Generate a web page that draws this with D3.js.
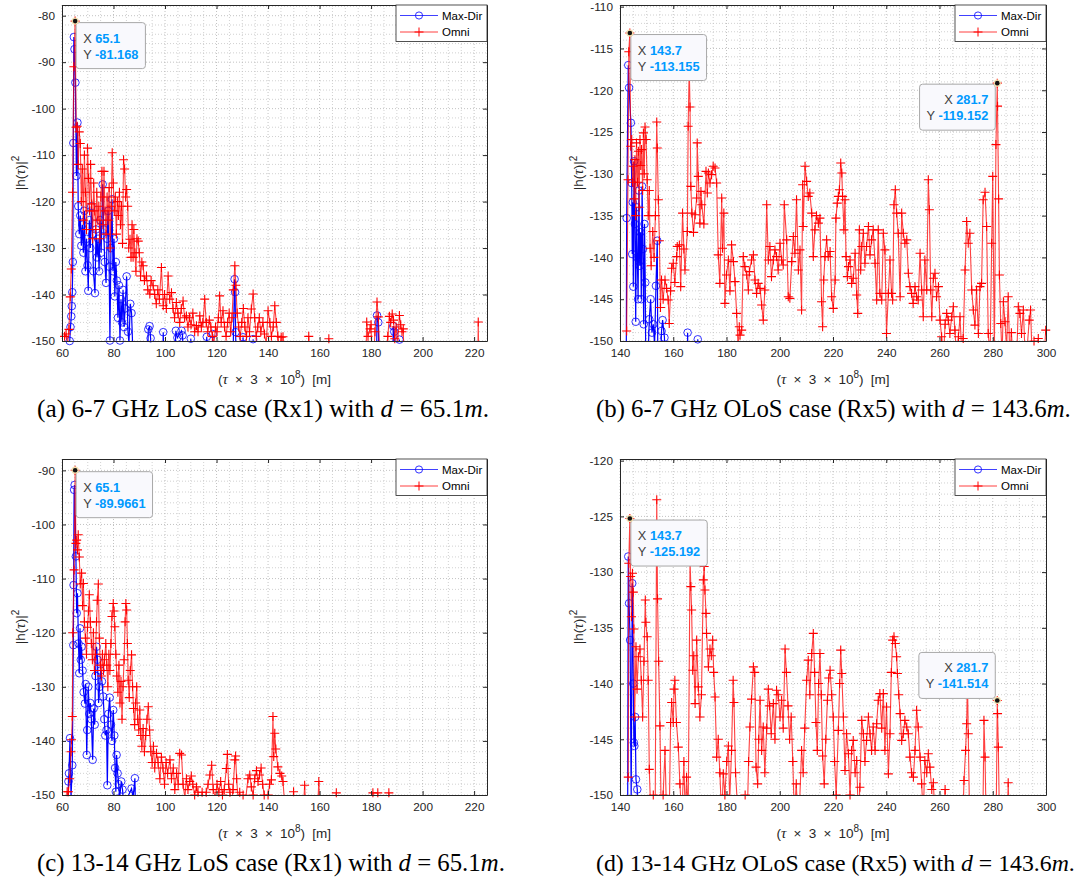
<!DOCTYPE html>
<meta charset="utf-8">
<style>
  body { margin: 0; background: #fff; }
  svg { font-family: "Liberation Sans", Arial, Helvetica, sans-serif; }
  .minor line { stroke: #bdbdbd; stroke-width: 0.7; stroke-dasharray: 1,2; }
  .major line { stroke: #a8a8a8; stroke-width: 0.7; stroke-dasharray: 1,2; }
  .axis path, .axis line { stroke: #262626; stroke-width: 1; }
  .axis text { fill: #262626; }
  .caption { font-family: "Liberation Serif", "Times New Roman", serif; font-size: 24px; fill: #000; }
</style>
<body>
<div id="chart"></div>
<script src="https://d3js.org/d3.v7.min.js"></script>
<script>
// ---- data ----
// (a) 6-7 GHz LoS
var omniA = [
  [61.0,-149.0],[61.6,-148.5],[62.2,-150.5],[62.7,-147.5],[63.2,-140.5],[63.6,-134.5],[64.1,-118],[64.6,-91],[65.1,-81.168],
  [65.5,-104],[65.9,-103.8],[66.3,-112],[66.7,-105],[67.1,-107.5],[67.5,-120],[67.9,-113],[68.3,-124],[68.7,-110],[69.1,-118],
  [69.5,-126],[69.9,-108.5],[70.3,-115],[70.7,-122],[71.1,-112],[71.5,-120.5],[71.9,-128],[72.3,-116],[72.7,-122],[73.1,-126],
  [73.5,-118],[73.9,-124],[74.3,-121],[74.7,-128],[75.1,-119],[75.5,-113.5],[75.9,-125],[76.3,-113.5],[76.7,-122],[77.1,-127],
  [77.5,-119],[77.9,-124],[78.3,-117],[78.7,-130],[79.1,-121],[79.5,-109.5],[79.9,-116],[80.3,-122],[80.7,-119],[81.1,-127],
  [81.5,-120],[81.9,-123],[82.3,-118],[82.7,-125],[83.1,-121],[83.5,-129],[83.9,-111],[84.3,-113],[84.7,-119],[85.1,-117.4],
  [85.5,-121],[85.9,-130],[86.4,-128.1],[86.8,-132],[87.2,-125],[87.6,-132],[87.9,-126],[88.3,-131],[88.7,-135],[89.1,-128],
  [89.6,-128.5],[90.0,-131],[90.5,-136],[91.0,-133],[91.5,-133.8],[92.0,-137],[92.8,-136],[93.3,-139],[94.1,-139.9],[94.6,-137],
  [95.4,-138.1],[96.0,-140],[96.6,-142],[97.2,-139],[97.8,-141],[98.6,-134.2],[99.3,-142.4],[99.8,-140],[100.5,-143],[101.2,-136],
  [101.8,-141],[102.5,-139.6],[103.1,-143],[103.7,-145],[104.4,-141.7],[105.0,-144],[105.7,-146],[106.3,-143],[107.0,-141.4],
  [107.6,-145],[108.3,-144.6],[108.9,-147],[109.5,-145],[110.1,-146.5],[110.8,-144],[111.5,-148],[112.2,-146.7],[112.8,-148],
  [113.5,-144.6],[114.1,-147],[114.7,-146],[115.4,-141],[116.0,-146],[116.6,-148],[117.2,-145.5],[117.8,-147],[118.4,-149],
  [119.0,-150.5],[119.6,-147],[120.2,-148],[120.7,-145],[121.2,-140.3],[121.8,-146],[122.5,-143.5],[123.1,-147],[123.7,-149],
  [124.3,-146],[124.9,-144],[125.5,-148],[126.0,-145],[126.5,-139],[127.1,-133.8],[127.5,-138],[128.0,-144],[128.6,-147],
  [129.2,-149],[129.8,-146],[130.4,-143],[131.0,-147],[131.6,-149],[132.2,-145],[132.8,-148],[133.5,-143.1],[134.2,-139.9],
  [134.8,-145],[135.4,-149],[136.0,-147],[136.6,-145],[137.2,-148],[138.0,-146],[138.6,-148.5],[139.3,-150.5],[140.0,-143.5],
  [140.7,-146],[141.3,-149],[142.0,-147],[142.6,-142.4],[143.2,-146],[143.8,-149],[144.4,-152],[145.1,-149.2],[145.8,-149.1],
  [146.3,-160],[155.4,-160],[155.8,-149],[156.3,-160],[163.2,-160],[163.6,-149.5],[164.0,-160],[177.8,-160],[178.3,-145.9],
  [178.8,-149],[179.6,-147.4],[180.0,-146.5],[180.5,-160],[181.5,-148],[182.3,-141.6],[182.8,-144.8],[183.2,-150.5],[184.0,-160],
  [186.5,-149],[187.1,-144.7],[187.6,-146],[188.2,-144.2],[188.7,-145.5],[189.2,-149.5],[189.7,-147],[190.3,-150.5],[191.0,-144.5],
  [191.5,-146.5],[192.0,-148],[192.5,-147.4],[193.0,-160],[221.3,-160],[221.6,-145.9],[222.0,-160]
];
var maxDirA = [
  [62.5,-160],[63.0,-150],[63.3,-147],[63.6,-144.7],[63.8,-142.5],[64.0,-139.5],[64.2,-133],[64.4,-107.4],[64.6,-84.6],
  [64.85,-87.2],[65.2,-94.4],[65.6,-114.5],[66.0,-103],[66.3,-121],[66.7,-127],[67.1,-123],[67.5,-129.5],[67.9,-125],[68.3,-131],
  [68.7,-122],[69.1,-135],[69.5,-128],[69.9,-133.7],[70.2,-139.2],[70.6,-124],[71.0,-130],[71.4,-121],[71.8,-127],[72.2,-135],
  [72.8,-139.7],[73.2,-126],[73.6,-132],[74.0,-128],[74.4,-135],[74.8,-124],[75.2,-131],[75.8,-116.3],[76.2,-126],[76.6,-133],
  [77.1,-137.5],[77.5,-128],[77.9,-122],[78.3,-134],[78.6,-149.9],[79.0,-130],[79.4,-119.5],[79.8,-135],[80.2,-128],[80.5,-140.4],
  [80.9,-133],[81.3,-137],[81.7,-145],[82.1,-138],[82.5,-149.9],[82.9,-141],[83.3,-146],[83.7,-139],[84.1,-147],[84.5,-143],
  [85.1,-136.1],[85.6,-148],[86.0,-150.5],[86.5,-142],[87.0,-144],[87.4,-150.5],[88.0,-160],[93.0,-160],[93.5,-147.5],
  [94.0,-146.8],[94.4,-149.4],[95.0,-160],[99.0,-160],[99.3,-148.1],[99.8,-160],[103.5,-160],[104.2,-147.8],[104.8,-149.3],
  [106.4,-147.8],[106.8,-148.8],[107.5,-160],[109.5,-160],[110.0,-149.5],[110.5,-160],[115.5,-160],[116.2,-149.1],[116.8,-160],
  [118.0,-160],[118.5,-148.5],[119.0,-160],[126.5,-150.5],[127.0,-136.7],[127.2,-139.5],[127.4,-148.1],[127.8,-160],[130.0,-160],
  [130.3,-149.2],[130.8,-160],[134.0,-160],[134.2,-149.6],[134.6,-160],[182.0,-160],[182.3,-144.5],[182.8,-146],[183.2,-160],
  [188.4,-160],[188.6,-146.8],[189.0,-148],[189.4,-160],[190.6,-160],[191.0,-149.7],[191.4,-160]
];

// (b) 6-7 GHz OLoS
var omniB = [
  [142.5,-148.8],[143.0,-130.7],[143.3,-115.4],[143.7,-113.155],[144.0,-126.7],[144.4,-125.9],[144.7,-131],[145.0,-129.1],
  [145.3,-133],[145.6,-128.3],[145.9,-135],[146.2,-126.3],[146.6,-131],[146.9,-127.3],[147.2,-134],[147.5,-125.9],[147.8,-129],
  [148.1,-127.1],[148.5,-132],[148.8,-125.1],[149.1,-130],[149.4,-124.4],[149.8,-125.9],[150.2,-130.7],[150.6,-135],[151.0,-132],
  [151.3,-138.9],[151.7,-141],[152.3,-136.9],[152.8,-140],[153.3,-135],[153.8,-123.8],[154.0,-126.9],[154.4,-133.1],[154.8,-138],
  [155.2,-146],[155.6,-142.7],[156.2,-145],[156.9,-142.7],[157.5,-143.7],[158.1,-145.1],[158.5,-147.9],[159.0,-144],[159.4,-141.3],
  [160.0,-140.7],[160.6,-143],[161.3,-139.9],[161.5,-138.7],[162.3,-138.5],[162.8,-143.5],[163.5,-134.7],[164.0,-139],[164.4,-141.5],
  [165.3,-136.9],[165.6,-124.3],[166.0,-117.3],[166.3,-122],[166.6,-131.5],[167.0,-134.7],[167.6,-137],[168.2,-134.9],[168.8,-132.9],
  [169.0,-126.3],[169.4,-130.3],[170.0,-135.9],[170.4,-132.1],[170.7,-133.7],[171.5,-136],[172.3,-129.7],[172.8,-132.3],[173.2,-129.9],
  [173.8,-131.1],[174.4,-130.1],[175.0,-129.1],[175.7,-129.3],[176.3,-131.1],[176.9,-139.7],[177.5,-143.1],[178.2,-132.9],[178.5,-138.9],
  [179.0,-134.7],[179.4,-145.5],[180.0,-142.1],[180.7,-140.3],[181.3,-144],[181.9,-138.5],[182.6,-140.5],[183.2,-142.9],[183.8,-146.7],
  [184.4,-151],[184.8,-148.3],[185.1,-149.3],[185.7,-148.7],[186.3,-139.9],[186.9,-141.1],[187.6,-142.1],[188.2,-143.9],[188.6,-141.7],
  [189.4,-140.3],[190.1,-139.7],[190.7,-142.7],[191.3,-144.3],[191.9,-143.1],[192.6,-143.7],[193.2,-145.7],[193.8,-147.5],[194.4,-143.9],
  [195.1,-133.7],[195.7,-140.3],[196.3,-138.7],[196.9,-142.3],[197.6,-140.3],[198.2,-139.1],[198.8,-139.9],[199.4,-141.5],[200.1,-138.3],
  [200.7,-140.3],[201.3,-140.9],[201.7,-133.7],[202.6,-137.9],[203.2,-144.7],[203.8,-144.9],[204.5,-140.5],[205.1,-137.5],[205.7,-139.5],
  [206.3,-133.1],[207.0,-141.5],[207.6,-139.1],[208.2,-146.3],[208.6,-131.3],[208.8,-136.3],[209.5,-129.1],[210.1,-130.9],[210.7,-132.7],
  [211.3,-132.3],[212.0,-134.7],[212.6,-139.9],[213.2,-136.7],[213.8,-135],[214.5,-135.9],[215.1,-135.3],[215.7,-145.3],[216.1,-148.3],
  [216.5,-142.7],[217.0,-139.9],[217.6,-137.9],[218.2,-139.9],[218.9,-139.3],[219.5,-144.7],[220.1,-146.1],[220.8,-142.7],[221.1,-135.3],
  [221.6,-133.5],[222.0,-132.7],[222.4,-131.9],[222.9,-128.7],[223.3,-129.9],[223.6,-132.7],[224.1,-136.7],[224.5,-133.1],[224.9,-139.9],
  [225.4,-142.3],[225.8,-141.1],[226.4,-140.3],[227.0,-143.1],[227.6,-142.5],[228.3,-139.5],[228.9,-144.5],[229.3,-146.7],[229.9,-136.7],
  [230.4,-141.5],[230.8,-138.7],[231.4,-137.1],[232.0,-140.7],[232.6,-138.7],[233.3,-136.3],[233.9,-139.7],[234.5,-137.9],[235.1,-136.7],
  [235.8,-140.7],[236.4,-145.1],[237.0,-136.7],[237.6,-144.3],[238.3,-145.1],[238.9,-137.1],[239.5,-139.1],[240.1,-149.1],[240.8,-144.3],
  [241.4,-140.3],[242.0,-144.3],[242.4,-145.1],[242.9,-133.7],[243.4,-131.9],[243.9,-134.7],[244.5,-137.1],[245.2,-144.7],[245.8,-134.7],
  [246.4,-137.1],[247.0,-138.3],[247.7,-137.9],[248.3,-141.9],[248.9,-143.5],[249.5,-144.3],[250.1,-145.5],[250.8,-143.5],[251.4,-144.7],
  [252.0,-145.1],[252.7,-139.5],[253.3,-143.9],[253.9,-147.1],[254.5,-140.3],[255.2,-143.9],[255.8,-130.7],[256.2,-134.3],[256.7,-143.9],
  [257.1,-147.1],[257.7,-142.5],[258.3,-141.9],[258.9,-144.7],[259.6,-143.5],[260.2,-147.5],[260.8,-149.5],[261.5,-152],[262.1,-148],
  [262.7,-146.7],[263.3,-147.5],[263.9,-149.1],[264.6,-147.1],[265.2,-145.9],[265.8,-148.7],[266.4,-152],[267.1,-149.5],[267.7,-147.1],
  [268.3,-151],[268.9,-149.7],[269.6,-141.5],[270.2,-135.7],[270.8,-138.3],[271.4,-137.1],[272.1,-143.9],[272.7,-146.3],[273.3,-148.1],
  [273.9,-143.9],[274.6,-149.1],[275.2,-143.5],[275.8,-143.1],[276.4,-133.1],[277.1,-132.2],[277.7,-136.3],[278.3,-149.1],[279.0,-152],
  [279.6,-138.3],[280.0,-130.3],[280.6,-152],[281.2,-126.5],[281.7,-119.152],[281.8,-121.9],[282.2,-133],[282.5,-142.1],[283.0,-147.9],
  [283.5,-152],[284.0,-145.3],[284.6,-147.7],[285.2,-151],[285.8,-144.7],[286.4,-152],[287.0,-149],[287.6,-152],[288.3,-150.5],
  [289.0,-152],[289.6,-145.9],[290.2,-146.7],[290.8,-149.1],[291.5,-146.3],[292.2,-152],[293.0,-150.5],[293.7,-147.5],[294.2,-146.3],
  [294.8,-152],[295.5,-150],[296.3,-152],[297.1,-149.7],[297.8,-152],[298.6,-150.5],[299.3,-152],[299.9,-148.7]
];
var maxDirB = [
  [142.3,-160],[142.5,-135.3],[143.1,-117],[143.4,-119.7],[144.1,-123.9],[144.4,-131.1],[144.6,-139.6],[144.8,-133.4],[145.0,-143.5],
  [145.3,-128.5],[145.6,-136],[145.9,-147.7],[146.2,-134],[146.5,-140],[146.8,-145],[147.1,-132],[147.4,-141],[147.7,-137],
  [148.0,-145],[148.3,-131.5],[148.6,-139],[148.9,-148],[149.2,-136],[149.5,-143],[149.8,-160],[151.0,-147.4],[151.5,-145],
  [152.0,-149],[152.5,-148],[153.0,-150.5],[153.5,-143.4],[154.0,-138],[154.3,-160],[155.6,-148.8],[156.0,-147.5],[156.7,-149.6],
  [157.0,-160],[165.1,-160],[165.4,-149],[165.7,-160],[168.9,-160],[169.2,-149.8],[169.5,-160]
];

// (c) 13-14 GHz LoS
var omniC = [
  [61.6,-160],[62.0,-149.4],[62.5,-149.4],[63.0,-147],[63.5,-142],[63.7,-139.8],[64.0,-135.5],[64.2,-120],[64.7,-108.4],
  [65.1,-89.9661],[65.4,-103.5],[65.7,-102.9],[66.0,-104.7],[66.3,-101.9],[66.7,-106],[67.1,-111],[67.6,-109],[68.0,-115],
  [68.3,-110.9],[68.7,-118],[69.1,-121],[69.5,-124],[69.9,-119],[70.3,-116],[70.6,-113],[71.0,-118],[71.4,-122],[71.8,-125],
  [72.2,-120],[72.6,-127],[73.0,-124],[73.4,-118],[73.7,-114],[74.1,-111],[74.5,-121],[74.9,-126],[75.3,-128],[75.7,-124],
  [76.1,-127],[76.5,-125],[77.0,-122],[77.4,-126],[77.8,-130],[78.2,-124],[78.6,-127],[79.0,-122],[79.4,-117],[79.9,-114.6],
  [80.2,-116],[80.5,-118.9],[80.9,-124],[81.3,-128],[81.7,-131],[82.1,-126],[82.5,-133],[82.9,-129],[83.3,-136],[83.7,-130],
  [84.1,-125],[84.5,-118],[84.8,-114.6],[85.1,-115.8],[85.4,-122],[85.7,-128.8],[86.1,-132],[86.5,-127],[87.0,-124.1],[87.4,-130],
  [87.8,-134],[88.2,-137],[88.6,-133],[89.0,-130],[89.4,-136],[89.8,-138],[90.2,-134.3],[90.6,-139],[91.0,-141],[91.5,-137.7],
  [92.0,-142],[92.5,-139],[93.0,-136],[93.5,-133.7],[94.0,-138],[94.5,-142],[95.0,-144],[95.5,-141],[96.0,-145],[96.7,-142.3],
  [97.3,-144],[98.0,-147],[98.6,-143],[99.2,-145],[99.8,-148],[100.4,-144],[101.0,-146],[101.9,-143.5],[102.5,-147],[103.2,-145],
  [103.8,-149],[104.5,-146],[105.1,-148],[105.7,-142.3],[106.4,-142.6],[107.0,-148],[107.7,-150.5],[108.3,-147],[108.9,-149],
  [109.6,-147.5],[110.2,-146.5],[110.8,-148],[111.5,-150],[112.2,-148.5],[112.8,-149.5],[113.5,-152],[114.4,-149.5],[115.2,-152],
  [116.0,-149.5],[116.7,-148],[117.4,-146.3],[118.1,-144.5],[118.7,-149],[119.5,-150.5],[120.2,-148],[120.9,-149.5],[121.6,-147.5],
  [122.3,-150],[123.0,-149],[123.8,-145.1],[124.2,-142.5],[124.7,-148],[125.2,-149.5],[125.7,-152],[126.4,-149],[127.1,-143.5],
  [127.4,-142.8],[127.8,-147],[128.3,-150.5],[129.0,-149.5],[129.6,-152],[130.3,-150],[131.0,-152],[132.2,-147],[132.9,-146.3],
  [133.5,-148.5],[134.2,-150],[134.8,-147],[135.5,-145.5],[136.1,-147.5],[136.7,-146.3],[137.3,-145],[137.9,-148],[138.5,-150],
  [139.2,-152],[140.0,-150],[140.6,-148],[141.3,-147.2],[141.9,-135.5],[142.2,-142.9],[142.6,-138.6],[143.0,-141.5],[143.8,-144.8],
  [144.6,-146],[145.3,-146.5],[145.8,-147.5],[146.5,-152],[149.5,-152],[149.9,-149.4],[150.3,-152],[153.8,-152],[154.2,-148.2],
  [154.6,-152],[159.3,-152],[159.7,-147.5],[160.1,-152],[166.1,-152],[166.5,-149.6],[166.9,-152],[180.3,-152],[180.7,-149.6],
  [181.2,-152],[182.2,-152],[182.6,-149.6],[183.0,-152],[186.5,-152],[186.9,-149.6],[187.3,-152]
];
var maxDirC = [
  [62.0,-160],[62.5,-147.5],[62.7,-146],[63.1,-139.5],[63.5,-150.5],[64.0,-144.5],[64.4,-122.3],[64.5,-111.2],[64.7,-93.6],
  [64.9,-92.7],[65.4,-105.9],[65.7,-116.4],[66.0,-112.7],[66.4,-122],[66.7,-127.5],[67.0,-119.2],[67.3,-125],[67.6,-122.6],
  [68.0,-127],[68.4,-131],[68.9,-133.1],[69.2,-129.5],[69.6,-142.6],[69.8,-138],[70.2,-130],[70.6,-135],[71.0,-133],[71.4,-136],
  [71.9,-143.5],[72.3,-134],[72.7,-137],[73.0,-128],[73.4,-122.6],[73.8,-125],[74.2,-133],[74.6,-130],[75.0,-127],[75.5,-129],
  [76.0,-131.8],[76.4,-136],[76.8,-139],[77.3,-138],[77.6,-148.2],[78.0,-135],[78.5,-132],[79.0,-137],[79.4,-140],[79.9,-134.3],
  [80.3,-139],[80.6,-145],[80.9,-149.4],[81.2,-142.6],[81.6,-146],[82.0,-148],[82.4,-150.5],[83.0,-147.5],[83.5,-149],[84.0,-152],
  [87.0,-148.8],[87.6,-150.5],[88.3,-146.9],[88.8,-160]
];

// (d) 13-14 GHz OLoS
var omniD = [
  [143.1,-148.4],[143.3,-129.2],[143.7,-125.192],[144.0,-130.4],[144.3,-134],[144.7,-130.1],[145.0,-131.8],[145.2,-135.1],
  [145.5,-143],[146.0,-136.7],[146.4,-140.5],[146.9,-137.6],[147.5,-136.9],[148.0,-139.7],[148.5,-143],[149.0,-138],[149.5,-132.5],
  [149.7,-134.5],[150.2,-135.8],[150.6,-139.7],[151.0,-147.7],[151.6,-152],[152.5,-150],[153.2,-152],[153.8,-123.5],[154.1,-132.4],
  [154.5,-138],[155.0,-143.8],[155.5,-152],[156.2,-150],[156.9,-146],[157.5,-152],[158.5,-152],[159.0,-143.5],[159.4,-141.7],
  [160.0,-143.5],[160.3,-140.5],[160.6,-139.7],[161.2,-143.5],[161.9,-145.7],[162.5,-149],[163.2,-152],[164.0,-147],[164.5,-152],
  [165.0,-148.4],[165.6,-152],[166.3,-128.9],[166.6,-131.3],[166.9,-133.4],[167.3,-138.8],[167.7,-137.5],[168.2,-141.8],[168.8,-136.1],
  [169.4,-140.3],[170.0,-143],[170.6,-141],[171.3,-130.7],[171.6,-129.5],[171.9,-131.6],[172.3,-133.7],[172.5,-135.5],[173.2,-138.5],
  [173.8,-136.9],[174.3,-137.5],[174.8,-136.1],[175.2,-139],[175.7,-141.2],[176.3,-146.6],[176.9,-145],[177.5,-148],[178.2,-152],
  [178.8,-148.1],[179.4,-150],[180.1,-147],[180.7,-145.6],[181.2,-150.5],[181.9,-146],[182.5,-139.7],[182.8,-141.7],[183.4,-148],
  [184.0,-150.5],[184.6,-152],[185.5,-150.5],[186.3,-152],[187.0,-150],[187.8,-152],[188.3,-147],[188.8,-143.9],[189.4,-141.4],
  [190.1,-138.5],[190.6,-139],[191.1,-147.5],[191.7,-149],[192.1,-145],[192.6,-141.5],[193.2,-146],[193.8,-143.9],[194.4,-148],
  [195.1,-144],[195.7,-140.5],[196.2,-142],[196.8,-144.5],[197.6,-141.8],[198.2,-145],[198.8,-140.6],[199.4,-141],[200.1,-143],
  [200.7,-141.5],[201.3,-144],[202.0,-136.9],[202.5,-139],[203.1,-142],[203.7,-145],[204.3,-143],[204.9,-147],[205.5,-152],
  [206.2,-149],[206.8,-152],[207.5,-150.5],[208.2,-146],[208.8,-148],[209.4,-144],[210.1,-139.7],[210.7,-137.9],[211.3,-141],
  [212.0,-137.3],[212.6,-135.5],[213.1,-139],[213.6,-143.5],[214.1,-146],[214.6,-140],[215.1,-137.3],[215.6,-141],[216.1,-146.5],
  [216.7,-149],[217.3,-145],[217.9,-141.5],[218.4,-139.5],[218.9,-138.8],[219.5,-141],[220.1,-143],[220.6,-147],[221.2,-150],
  [222.0,-144.2],[222.5,-140],[222.9,-137],[223.3,-139.1],[223.9,-143],[224.5,-147.8],[225.1,-144.5],[225.8,-146.3],[226.4,-150],
  [227.0,-146],[227.6,-145.1],[228.3,-148],[228.9,-146.9],[229.5,-152],[230.1,-149.3],[230.8,-143.3],[231.4,-144.5],[232.0,-147],
  [232.6,-145.1],[233.3,-143],[233.9,-144.5],[234.5,-146],[235.1,-143.9],[235.8,-146],[236.4,-143.6],[237.0,-141.5],[237.6,-140.9],
  [238.3,-144],[238.9,-140.9],[239.5,-146],[240.1,-142.1],[240.8,-148.1],[241.4,-144.5],[241.9,-139],[242.4,-136.1],[242.9,-135.8],
  [243.4,-136.4],[243.9,-137.6],[244.2,-139.1],[244.7,-141],[245.2,-142.7],[245.8,-145.1],[246.4,-144.5],[247.0,-143.3],[247.7,-143.9],
  [248.3,-144.5],[248.9,-146.6],[249.5,-148],[250.2,-148.4],[250.8,-146],[251.4,-142.4],[252.0,-143.9],[252.7,-146.6],[253.3,-149],
  [253.9,-152],[254.5,-146.9],[255.2,-148],[255.8,-146.3],[256.4,-147.5],[257.1,-149.5],[257.7,-148.9],[258.3,-152],[261.7,-152],
  [262.1,-149.5],[262.6,-152],[268.8,-152],[269.2,-148.7],[269.8,-146],[270.2,-143.6],[270.5,-139.5],[270.8,-144.5],[271.3,-152],
  [276.3,-152],[276.7,-143.3],[277.1,-146.6],[277.5,-152],[281.3,-152],[281.7,-141.514],[281.8,-142.7],[282.1,-145.7],[282.5,-152],
  [285.5,-152],[285.8,-148.9],[286.2,-152]
];
var maxDirD = [
  [142.8,-160],[143.1,-128.6],[143.4,-132.8],[143.8,-136.1],[144.2,-150.5],[144.6,-131],[145.0,-140],[145.2,-145.3],[145.4,-145.6],
  [145.7,-143],[146.0,-148.6],[146.5,-149.5],[146.8,-160]
];

// axis limits and ticks
var xDomains = [[60,225],[140,300],[60,225],[140,300]];
var yDomains = [[-150,-77.7],[-150,-109.8],[-150,-87.9],[-150,-119.85]];
var xTicksLoS = [60,80,100,120,140,160,180,200,220];
var xTicksOLoS = [140,160,180,200,220,240,260,280,300];
var yTicksA = [-150,-140,-130,-120,-110,-100,-90,-80];
var yTicksB = [-150,-145,-140,-135,-130,-125,-120,-115,-110];
var yTicksC = [-150,-140,-130,-120,-110,-100,-90];
var yTicksD = [-150,-145,-140,-135,-130,-125,-120];
var xMinorSteps = [5,5,5,5];
var yMinorSteps = [2,1,2,1];

// data tips: [x, y] of the marked point
var tipsA = [[65.1,-81.168]];
var tipsB = [[143.7,-113.155],[281.7,-119.152]];
var tipsC = [[65.1,-89.9661]];
var tipsD = [[143.7,-125.192],[281.7,-141.514]];

var seriesNames = ["Max-Dir","Omni"];
var captions = [
  ["(a) 6-7 GHz LoS case (Rx1) with ", "d", " = 65.1", "m", "."],
  ["(b) 6-7 GHz OLoS case (Rx5) with ", "d", " = 143.6", "m", "."],
  ["(c) 13-14 GHz LoS case (Rx1) with ", "d", " = 65.1", "m", "."],
  ["(d) 13-14 GHz OLoS case (Rx5) with ", "d", " = 143.6", "m", "."]
];

// ---- layout ----
var boxes = [
  {left: 62, right: 487, top: 5, bottom: 341},
  {left: 620, right: 1046, top: 5, bottom: 341},
  {left: 62, right: 487, top: 459, bottom: 795},
  {left: 620, right: 1046, top: 459, bottom: 795}
];
var tipPlace = [["se"], ["se","sw"], ["se"], ["se","nw"]];
// caption: left x, baseline y, target width
var captionPos = [[37, 417, 452], [596, 417, 475], [37, 871, 468], [596, 871, 479]];

var panels = [
  {omni: omniA, maxDir: maxDirA, xTicks: xTicksLoS, yTicks: yTicksA, tips: tipsA},
  {omni: omniB, maxDir: maxDirB, xTicks: xTicksOLoS, yTicks: yTicksB, tips: tipsB},
  {omni: omniC, maxDir: maxDirC, xTicks: xTicksLoS, yTicks: yTicksC, tips: tipsC},
  {omni: omniD, maxDir: maxDirD, xTicks: xTicksOLoS, yTicks: yTicksD, tips: tipsD}
];

var svg = d3.select("#chart").append("svg")
    .attr("width", 1081)
    .attr("height", 882);

var plusPath = "M-4.5,0H4.5M0,-4.5V4.5";

panels.forEach(function(p, i) { drawPanel(p, i); });

function drawPanel(p, i) {
  var b = boxes[i];
  var x = d3.scaleLinear().domain(xDomains[i]).range([b.left, b.right]);
  var y = d3.scaleLinear().domain(yDomains[i]).range([b.bottom, b.top]);
  var g = svg.append("g");

  g.append("clipPath").attr("id", "clip" + i)
    .append("rect")
    .attr("x", b.left).attr("y", b.top)
    .attr("width", b.right - b.left).attr("height", b.bottom - b.top);

  // grid (minor then major)
  var xs = xMinorSteps[i], ys = yMinorSteps[i];
  var xMinor = d3.range(Math.ceil(xDomains[i][0] / xs) * xs, xDomains[i][1] + 1e-9, xs);
  var yMinor = d3.range(Math.ceil(yDomains[i][0] / ys) * ys, yDomains[i][1] + 1e-9, ys);
  var minor = g.append("g").attr("class", "minor");
  minor.selectAll(".gx").data(xMinor.filter(function(v) { return p.xTicks.indexOf(v) < 0; }))
    .enter().append("line")
    .attr("x1", function(d) { return x(d); }).attr("x2", function(d) { return x(d); })
    .attr("y1", b.top).attr("y2", b.bottom);
  minor.selectAll(".gy").data(yMinor.filter(function(v) { return p.yTicks.indexOf(v) < 0; }))
    .enter().append("line")
    .attr("y1", function(d) { return y(d); }).attr("y2", function(d) { return y(d); })
    .attr("x1", b.left).attr("x2", b.right);
  var major = g.append("g").attr("class", "major");
  major.selectAll(".gx").data(p.xTicks)
    .enter().append("line")
    .attr("x1", function(d) { return x(d); }).attr("x2", function(d) { return x(d); })
    .attr("y1", b.top).attr("y2", b.bottom);
  major.selectAll(".gy").data(p.yTicks)
    .enter().append("line")
    .attr("y1", function(d) { return y(d); }).attr("y2", function(d) { return y(d); })
    .attr("x1", b.left).attr("x2", b.right);

  var line = d3.line().x(function(d) { return x(d[0]); }).y(function(d) { return y(d[1]); });
  var inside = function(d) {
    return d[1] >= yDomains[i][0] - 0.05 && d[1] <= yDomains[i][1] && d[0] >= xDomains[i][0] && d[0] <= xDomains[i][1];
  };

  // Max-Dir (blue, circles)
  g.append("path").datum(p.maxDir)
    .attr("clip-path", "url(#clip" + i + ")")
    .attr("d", line)
    .attr("fill", "none").attr("stroke", "#0000ff").attr("stroke-width", 1.2);
  g.append("g").selectAll("circle").data(p.maxDir.filter(inside))
    .enter().append("circle")
    .attr("cx", function(d) { return x(d[0]); })
    .attr("cy", function(d) { return y(d[1]); })
    .attr("r", 3.8)
    .attr("fill", "none").attr("stroke", "#0000ff").attr("stroke-width", 0.8);

  // Omni (red, plus)
  g.append("path").datum(p.omni)
    .attr("clip-path", "url(#clip" + i + ")")
    .attr("d", line)
    .attr("fill", "none").attr("stroke", "#ff0000").attr("stroke-opacity", 0.75).attr("stroke-width", 1.1);
  g.append("g").selectAll("path").data(p.omni.filter(inside))
    .enter().append("path")
    .attr("transform", function(d) { return "translate(" + x(d[0]) + "," + y(d[1]) + ")"; })
    .attr("d", plusPath)
    .attr("stroke", "#ff0000").attr("stroke-width", 1.1);

  // axes (box with inward ticks on all sides)
  var fmt = function(d) { return String(d); };
  var ax = [
    g.append("g").attr("transform", "translate(0," + b.bottom + ")")
      .call(d3.axisBottom(x).tickValues(p.xTicks).tickFormat(fmt).tickSizeInner(-4).tickSizeOuter(0).tickPadding(8)),
    g.append("g").attr("transform", "translate(0," + b.top + ")")
      .call(d3.axisTop(x).tickValues(p.xTicks).tickFormat("").tickSizeInner(-4).tickSizeOuter(0)),
    g.append("g").attr("transform", "translate(" + b.left + ",0)")
      .call(d3.axisLeft(y).tickValues(p.yTicks).tickFormat(fmt).tickSizeInner(-4).tickSizeOuter(0).tickPadding(7)),
    g.append("g").attr("transform", "translate(" + b.right + ",0)")
      .call(d3.axisRight(y).tickValues(p.yTicks).tickFormat("").tickSizeInner(-4).tickSizeOuter(0))
  ];
  ax.forEach(function(a) {
    a.attr("class", "axis").attr("font-size", 11.8).attr("font-family", null);
  });

  // axis titles
  var xt = g.append("text")
    .attr("x", (b.left + b.right) / 2).attr("y", b.bottom + 43)
    .attr("text-anchor", "middle").attr("font-size", 13.5).attr("word-spacing", 3.5).attr("fill", "#262626");
  xt.append("tspan").text("(");
  xt.append("tspan").attr("font-style", "italic").attr("font-family", "Liberation Serif, serif").attr("font-size", 15).text("\u03c4");
  xt.append("tspan").text(" \u00d7 3 \u00d7 10");
  xt.append("tspan").attr("dy", -6).attr("font-size", 10).text("8");
  xt.append("tspan").attr("dy", 6).text(") [m]");

  var yt = g.append("text")
    .attr("transform", "translate(" + (b.left - 37) + "," + ((b.top + b.bottom) / 2) + ") rotate(-90)")
    .attr("text-anchor", "middle").attr("font-size", 13.5).attr("fill", "#262626");
  yt.append("tspan").text("|h(");
  yt.append("tspan").attr("font-style", "italic").attr("font-family", "Liberation Serif, serif").attr("font-size", 15).text("\u03c4");
  yt.append("tspan").text(")|");
  yt.append("tspan").attr("dy", -6).attr("font-size", 10).text("2");

  // legend
  var lg = g.append("g").attr("transform", "translate(" + (b.right - 91) + "," + b.top + ")");
  lg.append("rect").attr("width", 91).attr("height", 36.5)
    .attr("fill", "#fff").attr("stroke", "#262626").attr("stroke-width", 0.8);
  seriesNames.forEach(function(name, k) {
    var yy = 10.5 + k * 16.5;
    var col = k === 0 ? "#0000ff" : "#ff0000";
    lg.append("line").attr("x1", 4).attr("x2", 42).attr("y1", yy).attr("y2", yy)
      .attr("stroke", col).attr("stroke-width", 1).attr("stroke-opacity", 0.75);
    if (k === 0) {
      lg.append("circle").attr("cx", 23).attr("cy", yy).attr("r", 3.6)
        .attr("fill", "none").attr("stroke", col).attr("stroke-width", 0.8);
    } else {
      lg.append("path").attr("transform", "translate(23," + yy + ")").attr("d", plusPath)
        .attr("stroke", col).attr("stroke-width", 1);
    }
    lg.append("text").attr("x", 46).attr("y", yy).attr("dy", "0.35em")
      .attr("font-size", 11.5).attr("fill", "#000").text(name);
  });

  // data tips
  p.tips.forEach(function(t, k) {
    var px = x(t[0]), py = y(t[1]);
    var place = tipPlace[i][k];
    var tg = g.append("g");
    var rect = tg.append("rect").attr("rx", 3).attr("ry", 3)
      .attr("fill", "#f9f9fd").attr("stroke", "#a8a8a8").attr("stroke-width", 1);
    var lines = [["X ", String(t[0])], ["Y ", String(t[1])]];
    var texts = lines.map(function(l) {
      var tx = tg.append("text").attr("font-size", 12.8);
      tx.append("tspan").attr("fill", "#404040").text(l[0]);
      tx.append("tspan").attr("fill", "#0099ff").attr("font-weight", "bold").text(l[1]);
      return tx;
    });
    var w = d3.max(texts, function(tx) { return tx.node().getComputedTextLength(); }) + 14;
    var h = 46;
    var bx, by;
    if (place === "se") { bx = px + 1; by = py + 1.5; }
    else if (place === "sw") { bx = px - 2 - w; by = py + 1; }
    else { bx = px - 2 - w; by = py - 2 - h; }
    rect.attr("x", bx).attr("y", by).attr("width", w).attr("height", h);
    var rightAlign = place !== "se";
    texts.forEach(function(tx, j) {
      tx.attr("y", by + 15.5 + j * 16).attr("dy", "0.35em");
      if (rightAlign) tx.attr("x", bx + w - 7).attr("text-anchor", "end");
      else tx.attr("x", bx + 7);
    });
    tg.append("circle").attr("cx", px).attr("cy", py).attr("r", 3.6).attr("fill", "#f3dfb0");
    tg.append("circle").attr("cx", px).attr("cy", py).attr("r", 2.3).attr("fill", "#111");
  });

  // caption, font size fitted to the printed width
  var c = captions[i];
  var ct = svg.append("text").attr("class", "caption")
    .attr("x", captionPos[i][0]).attr("y", captionPos[i][1]);
  ct.append("tspan").text(c[0]);
  ct.append("tspan").attr("font-style", "italic").text(c[1]);
  ct.append("tspan").text(c[2]);
  ct.append("tspan").attr("font-style", "italic").text(c[3]);
  ct.append("tspan").text(c[4]);
  var len = ct.node().getComputedTextLength();
  ct.style("font-size", (24 * captionPos[i][2] / len).toFixed(2) + "px");
}
</script>
</body>
